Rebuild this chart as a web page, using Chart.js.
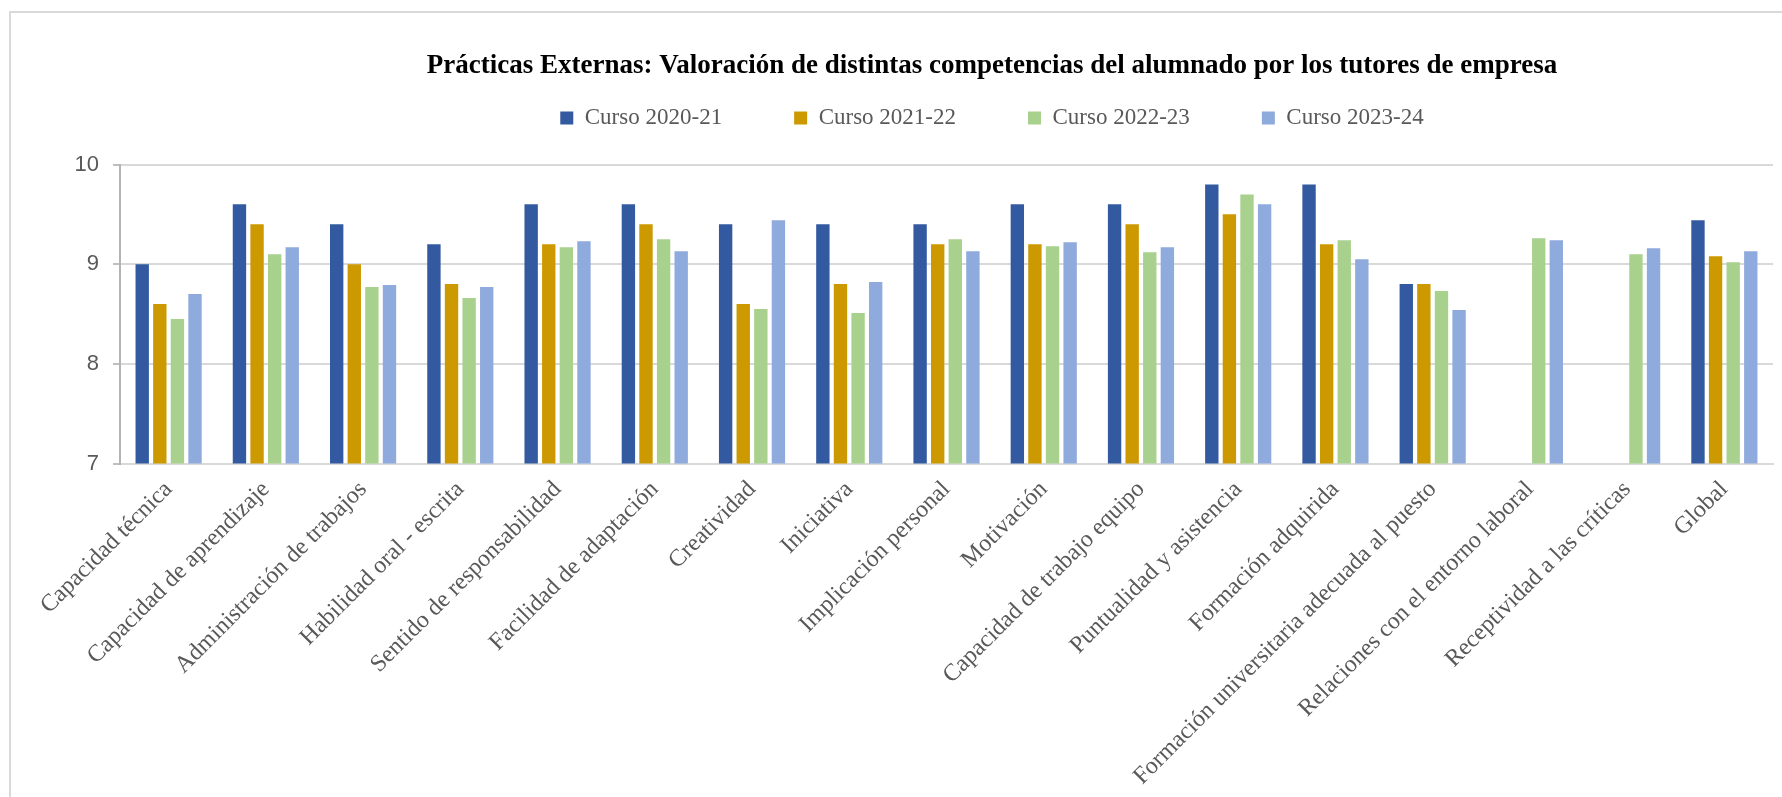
<!DOCTYPE html>
<html lang="es">
<head>
<meta charset="utf-8">
<title>Prácticas Externas</title>
<script src="https://cdn.jsdelivr.net/npm/chart.js@4.4.1/dist/chart.umd.min.js"></script>
<style>
  html, body { margin: 0; padding: 0; background: #fff; overflow: hidden; }
  #marco {
    position: absolute; left: 9px; top: 11px;
    width: 1800px; height: 900px;
    border: 2px solid #d9d9d9;
  }
  #caja { position: absolute; left: 0; top: 0; width: 1984px; height: 797px; }
</style>
</head>
<body>
<div id="marco"></div>
<div id="caja"><canvas id="grafico"></canvas></div>
<script>
const categorias = [
  'Capacidad técnica', 'Capacidad de aprendizaje', 'Administración de trabajos',
  'Habilidad oral - escrita', 'Sentido de responsabilidad', 'Facilidad de adaptación',
  'Creatividad', 'Iniciativa', 'Implicación personal', 'Motivación',
  'Capacidad de trabajo equipo', 'Puntualidad y asistencia', 'Formación adquirida',
  'Formación universitaria adecuada al puesto', 'Relaciones con el entorno laboral',
  'Receptividad a las críticas', 'Global'
];

const curso2021 = [9.0, 9.6, 9.4, 9.2, 9.6, 9.6, 9.4, 9.4, 9.4, 9.6, 9.6, 9.8, 9.8, 8.8, null, null, 9.44];
const curso2122 = [8.6, 9.4, 9.0, 8.8, 9.2, 9.4, 8.6, 8.8, 9.2, 9.2, 9.4, 9.5, 9.2, 8.8, null, null, 9.08];
const curso2223 = [8.45, 9.1, 8.77, 8.66, 9.17, 9.25, 8.55, 8.51, 9.25, 9.18, 9.12, 9.7, 9.24, 8.73, 9.26, 9.1, 9.02];
const curso2324 = [8.7, 9.17, 8.79, 8.77, 9.23, 9.13, 9.44, 8.82, 9.13, 9.22, 9.17, 9.6, 9.05, 8.54, 9.24, 9.16, 9.13];

const serif = "'Liberation Serif', 'Times New Roman', serif";
const sans = "'Liberation Sans', Arial, sans-serif";

// deja aire entre la leyenda y el área de dibujo
const ajusteLeyenda = {
  id: 'ajusteLeyenda',
  afterInit(chart) {
    const leyenda = chart.legend;
    const fitOriginal = leyenda.fit;
    leyenda.fit = function () {
      fitOriginal.call(this);
      this.height += 25;
    };
  }
};

const ctx = document.getElementById('grafico');

new Chart(ctx, {
  type: 'bar',
  data: {
    labels: categorias,
    datasets: [
      { label: 'Curso 2020-21', data: curso2021, backgroundColor: '#335aa1' },
      { label: 'Curso 2021-22', data: curso2122, backgroundColor: '#cc9900' },
      { label: 'Curso 2022-23', data: curso2223, backgroundColor: '#a9d18e' },
      { label: 'Curso 2023-24', data: curso2324, backgroundColor: '#8faadc' }
    ]
  },
  options: {
    responsive: true,
    maintainAspectRatio: false,
    animation: false,
    layout: { padding: 0 },
    datasets: {
      bar: { categoryPercentage: 0.724, barPercentage: 0.76, borderWidth: 0 }
    },
    plugins: {
      title: {
        display: true,
        text: 'Prácticas Externas: Valoración de distintas competencias del alumnado por los tutores de empresa',
        color: '#000',
        font: { family: serif, size: 27, weight: 'bold' },
        padding: { top: 50, bottom: -47.9 }
      },
      legend: {
        display: true,
        position: 'top',
        labels: {
          boxWidth: 13,
          boxHeight: 13,
          padding: 72,
          color: '#595959',
          font: { family: serif, size: 23 }
        }
      },
      tooltip: { enabled: false }
    },
    scales: {
      x: {
        grid: { color: 'rgba(0,0,0,0)', drawTicks: false },
        border: { display: true, color: '#d9d9d9', width: 2 },
        ticks: {
          autoSkip: false,
          maxRotation: 45,
          minRotation: 45,
          padding: 12,
          color: '#595959',
          font: { family: serif, size: 24 }
        },
        afterFit(axis) { axis.height = 797 - 463.5; }
      },
      y: {
        min: 7,
        max: 10,
        ticks: {
          stepSize: 1,
          padding: 14,
          color: '#595959',
          font: { family: sans, size: 22 }
        },
        grid: { color: '#d9d9d9', lineWidth: 2, tickLength: 7, tickColor: '#bfbfbf' },
        border: { display: true, color: '#b4b4b4', width: 2 },
        afterFit(axis) { axis.width = 120; }
      },
      // margen vacío a la derecha del área de barras
      margenDcho: {
        type: 'linear',
        position: 'right',
        display: true,
        grid: { display: false, drawTicks: false },
        border: { display: false },
        ticks: { display: false },
        afterFit(axis) { axis.width = 211; }
      }
    }
  },
  plugins: [ajusteLeyenda]
});
</script>
</body>
</html>
